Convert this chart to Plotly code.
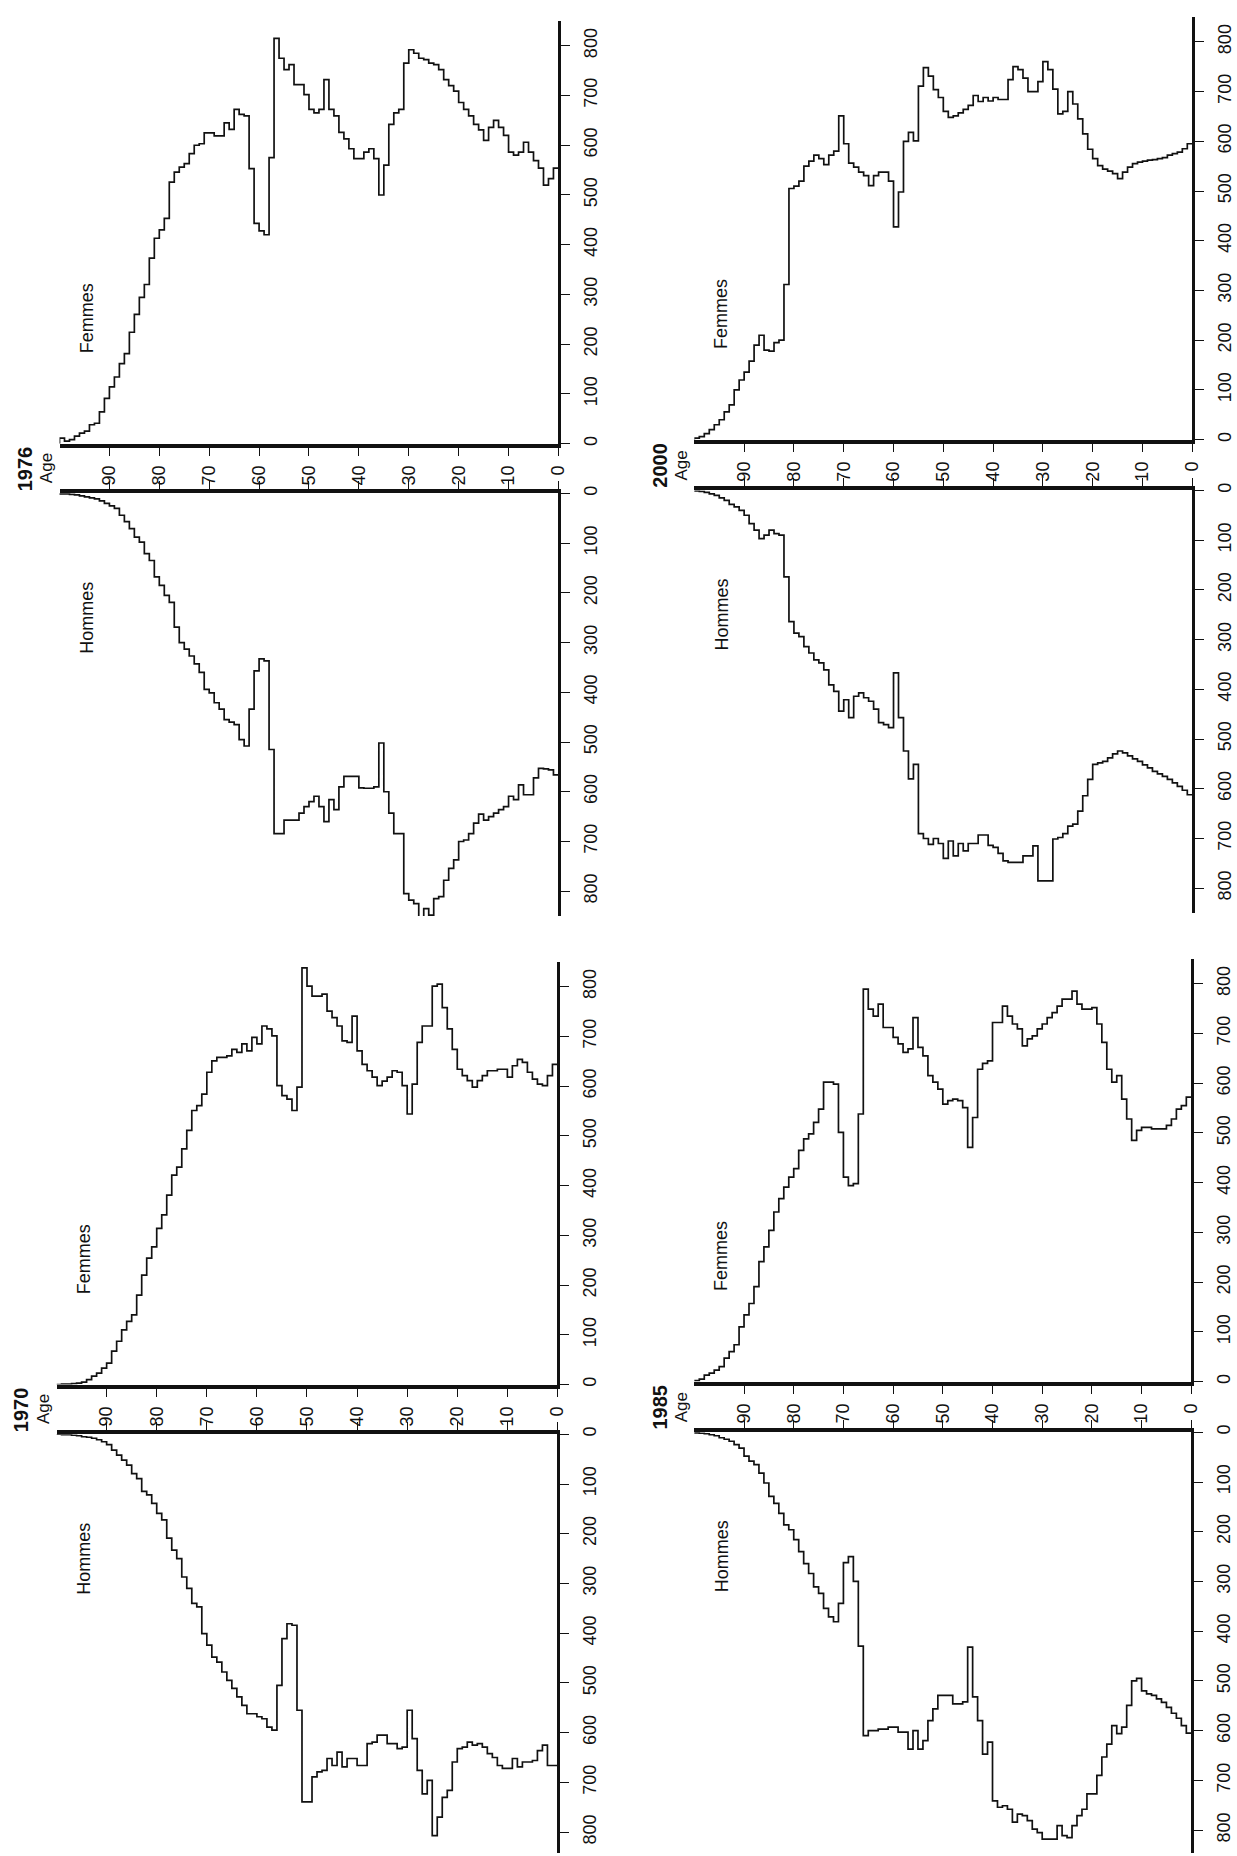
import plotly.graph_objects as go

# ---------------- data (population by single year of age, thousands) ----------------
AGES = list(range(0, 101))          # age 0..100 (last point closes the step curve)
AGE_TICKS = list(range(0, 100, 10))
POP_TICKS = list(range(0, 801, 100))

YEARS = ["1976", "2000", "1970", "1985"]

F1976 = [554, 533, 520, 554, 569, 586, 606, 586, 580, 586,
         620, 636, 650, 636, 610, 631, 642, 659, 672, 686,
         709, 720, 732, 752, 762, 765, 772, 775, 785, 792,
         765, 672, 665, 642, 560, 500, 573, 593, 586, 573,
         573, 593, 613, 626, 659, 672, 732, 672, 665, 672,
         702, 722, 722, 762, 752, 775, 815, 575, 420, 428,
         443, 553, 659, 662, 672, 632, 645, 619, 619, 625,
         625, 603, 600, 583, 563, 556, 546, 526, 453, 430,
         413, 373, 320, 294, 260, 224, 181, 161, 134, 114,
         91, 64, 41, 38, 25, 21, 15, 8, 5, 11]
H1976 = [566, 556, 554, 553, 572, 606, 606, 586, 616, 609,
         630, 636, 643, 650, 657, 645, 663, 684, 697, 700,
         737, 754, 778, 811, 815, 848, 835, 858, 825, 818,
         805, 684, 684, 643, 600, 502, 590, 593, 593, 592,
         569, 569, 569, 590, 636, 616, 660, 630, 609, 620,
         630, 643, 657, 657, 657, 684, 684, 515, 337, 333,
         357, 434, 508, 495, 465, 460, 455, 434, 421, 401,
         394, 360, 343, 327, 313, 300, 269, 219, 205, 185,
         168, 135, 121, 98, 88, 71, 57, 44, 30, 25,
         20, 15, 11, 9, 7, 5, 3, 2, 1, 1]
F2000 = [595, 585, 578, 575, 572, 567, 565, 563, 562, 560,
         558, 555, 548, 538, 525, 535, 540, 544, 551, 565,
         584, 615, 645, 675, 700, 660, 655, 705, 744, 760,
         720, 700, 700, 727, 744, 750, 724, 684, 684, 688,
         681, 688, 680, 692, 672, 664, 657, 651, 648, 660,
         688, 704, 731, 748, 711, 601, 618, 600, 498, 428,
         520, 538, 538, 531, 511, 531, 538, 548, 556, 595,
         651, 580, 572, 553, 565, 572, 560, 550, 520, 510,
         505, 312, 200, 195, 178, 180, 210, 190, 158, 136,
         120, 100, 70, 56, 40, 30, 20, 12, 6, 3]
H2000 = [612, 603, 595, 588, 581, 575, 570, 565, 558, 552,
         545, 540, 534, 528, 524, 530, 538, 545, 548, 551,
         581, 614, 645, 671, 675, 690, 698, 701, 785, 785,
         785, 715, 735, 735, 748, 748, 748, 745, 730, 718,
         714, 693, 693, 710, 710, 725, 710, 735, 705, 740,
         710, 700, 712, 700, 690, 551, 580, 524, 457, 367,
         477, 471, 467, 440, 424, 417, 407, 414, 457, 421,
         444, 404, 391, 361, 347, 341, 327, 314, 294, 287,
         264, 174, 90, 87, 80, 90, 97, 80, 67, 50,
         40, 33, 28, 20, 15, 10, 7, 4, 2, 1]
F1970 = [644, 621, 601, 604, 614, 628, 648, 654, 641, 618,
         634, 634, 631, 631, 621, 611, 598, 611, 621, 634,
         674, 715, 758, 805, 801, 721, 721, 688, 604, 544,
         601, 628, 631, 618, 610, 601, 618, 631, 644, 671,
         741, 688, 691, 721, 738, 751, 785, 781, 781, 801,
         838, 598, 551, 574, 581, 601, 701, 715, 721, 685,
         698, 671, 685, 668, 674, 661, 658, 658, 651, 628,
         584, 561, 551, 511, 474, 437, 421, 381, 341, 314,
         277, 254, 220, 180, 140, 127, 110, 87, 67, 43,
         33, 23, 17, 10, 5, 3, 2, 1, 1, 0]
H1970 = [666, 666, 625, 636, 656, 659, 659, 669, 652, 672,
         672, 666, 650, 642, 629, 622, 625, 619, 629, 632,
         659, 716, 730, 770, 807, 696, 723, 676, 612, 555,
         629, 632, 622, 622, 605, 605, 619, 622, 666, 666,
         652, 652, 669, 639, 666, 652, 676, 679, 689, 739,
         739, 555, 384, 381, 411, 505, 595, 589, 572, 568,
         562, 562, 545, 528, 511, 495, 478, 458, 448, 424,
         401, 347, 340, 310, 287, 250, 233, 209, 172, 159,
         139, 122, 115, 89, 79, 62, 52, 42, 32, 21,
         15, 11, 8, 6, 5, 3, 2, 1, 1, 0]
F1985 = [572, 555, 548, 528, 515, 508, 508, 508, 511, 511,
         505, 485, 528, 568, 615, 602, 628, 682, 719, 752,
         749, 749, 759, 785, 769, 769, 755, 742, 732, 719,
         709, 695, 689, 675, 709, 719, 735, 755, 722, 722,
         645, 640, 628, 531, 471, 551, 565, 568, 565, 558,
         588, 602, 615, 655, 672, 732, 669, 662, 679, 692,
         712, 712, 759, 735, 749, 789, 538, 398, 394, 411,
         501, 598, 602, 602, 548, 521, 498, 488, 465, 428,
         411, 391, 368, 341, 304, 271, 241, 191, 157, 134,
         110, 74, 60, 47, 30, 23, 17, 13, 5, 2]
H1985 = [605, 590, 575, 565, 553, 543, 536, 529, 526, 520,
         495, 500, 549, 593, 606, 590, 627, 653, 690, 727,
         727, 758, 771, 791, 815, 811, 791, 818, 818, 818,
         805, 798, 781, 771, 768, 784, 758, 751, 754, 741,
         623, 647, 580, 532, 432, 542, 546, 546, 529, 529,
         529, 556, 580, 620, 637, 600, 637, 603, 603, 593,
         593, 597, 597, 600, 600, 610, 430, 300, 250, 262,
         344, 381, 371, 354, 324, 311, 284, 264, 240, 216,
         196, 186, 163, 143, 129, 102, 82, 65, 58, 48,
         32, 25, 18, 14, 11, 7, 5, 3, 2, 1]

FEMMES = {"1976": F1976, "2000": F2000, "1970": F1970, "1985": F1985}
HOMMES = {"1976": H1976, "2000": H2000, "1970": H1970, "1985": H1985}

# ---------------- layout geometry (pixels on a 1237 x 1856 page) ----------------
W, H = 1237, 1856
PX_PER_UNIT = 0.5          # 800 thousand = 400 px
POP_MAX = 850
PANEL = {
    "1976": dict(x_old=60, x_young=563, f_base=438, h_base=488),
    "2000": dict(x_old=700, x_young=1202, f_base=434, h_base=485),
    "1970": dict(x_old=57, x_young=562, f_base=1384, h_base=1434),
    "1985": dict(x_old=700, x_young=1201, f_base=1381, h_base=1432),
}
FONT = "Liberation Sans, Arial, Helvetica, sans-serif"
INK = "#111111"

fig = go.Figure()
layout = dict(
    width=W, height=H, autosize=False,
    margin=dict(l=0, r=0, t=0, b=0),
    paper_bgcolor="white", plot_bgcolor="rgba(0,0,0,0)",
    showlegend=False,
    font=dict(family=FONT, color=INK),
    annotations=[],
)


def ax(n, kind):
    return kind + ("" if n == 1 else str(n))


for i, year in enumerate(YEARS):
    g = PANEL[year]
    nf, nh = 2 * i + 1, 2 * i + 2
    xdom = [g["x_old"] / W, g["x_young"] / W]
    f_top = g["f_base"] - POP_MAX * PX_PER_UNIT
    h_range = min(POP_MAX, (H - 1 - g["h_base"]) / PX_PER_UNIT)
    h_bot = g["h_base"] + h_range * PX_PER_UNIT

    fig.add_trace(go.Scatter(
        x=AGES, y=FEMMES[year] + [0], mode="lines",
        line=dict(color=INK, width=1.7, shape="hv"),
        xaxis=ax(nf, "x"), yaxis=ax(nf, "y"), hoverinfo="skip"))
    fig.add_trace(go.Scatter(
        x=AGES, y=HOMMES[year] + [0], mode="lines",
        line=dict(color=INK, width=1.7, shape="hv"),
        xaxis=ax(nh, "x"), yaxis=ax(nh, "y"), hoverinfo="skip"))

    common_x = dict(domain=xdom, range=[100, 0], showgrid=False, zeroline=False,
                    showline=True, linewidth=3.5, linecolor=INK,
                    ticks="outside", ticklen=9, tickwidth=1.3, tickcolor=INK,
                    tickvals=AGE_TICKS, fixedrange=True)
    layout[ax(nf, "xaxis")] = dict(common_x, anchor=ax(nf, "y"), side="bottom",
                                   ticktext=[str(a) for a in AGE_TICKS],
                                   tickangle=-90, ticklabelstandoff=2,
                                   tickfont=dict(size=18, family=FONT, color=INK))
    layout[ax(nh, "xaxis")] = dict(common_x, anchor=ax(nh, "y"), side="top",
                                   showticklabels=False)

    common_y = dict(side="right", showgrid=False, zeroline=False,
                    showline=True, linewidth=2.5, linecolor=INK,
                    ticks="outside", ticklen=9, tickwidth=1.3, tickcolor=INK,
                    tickvals=POP_TICKS, ticktext=[str(p) for p in POP_TICKS],
                    tickangle=-90, ticklabelstandoff=5,
                    tickfont=dict(size=18, family=FONT, color=INK), fixedrange=True)
    layout[ax(nf, "yaxis")] = dict(common_y, anchor=ax(nf, "x"),
                                   domain=[1 - g["f_base"] / H, 1 - f_top / H],
                                   range=[0, POP_MAX])
    layout[ax(nh, "yaxis")] = dict(common_y, anchor=ax(nh, "x"),
                                   domain=[1 - h_bot / H, 1 - g["h_base"] / H],
                                   range=[h_range, 0])

    mid = (g["f_base"] + g["h_base"]) / 2
    layout["annotations"] += [
        dict(text="<b>%s</b>" % year, xref="paper", yref="paper",
             x=(g["x_old"] - 35) / W, y=1 - mid / H, textangle=-90,
             showarrow=False, xanchor="center", yanchor="middle",
             font=dict(size=20, family=FONT, color=INK)),
        dict(text="Age", xref="paper", yref="paper",
             x=(g["x_old"] - 13) / W, y=1 - mid / H, textangle=-90,
             showarrow=False, xanchor="center", yanchor="middle",
             font=dict(size=17, family=FONT, color=INK)),
        dict(text="Femmes", xref=ax(nf, "x"), yref=ax(nf, "y"), x=94.5, y=252,
             textangle=-90, showarrow=False, xanchor="center", yanchor="middle",
             font=dict(size=18, family=FONT, color=INK)),
        dict(text="Hommes", xref=ax(nh, "x"), yref=ax(nh, "y"), x=94.5, y=250,
             textangle=-90, showarrow=False, xanchor="center", yanchor="middle",
             font=dict(size=18, family=FONT, color=INK)),
    ]

fig.update_layout(**layout)
fig.write_html("out.html", config={"displayModeBar": False},
               post_script="document.body.style.margin='0';")
